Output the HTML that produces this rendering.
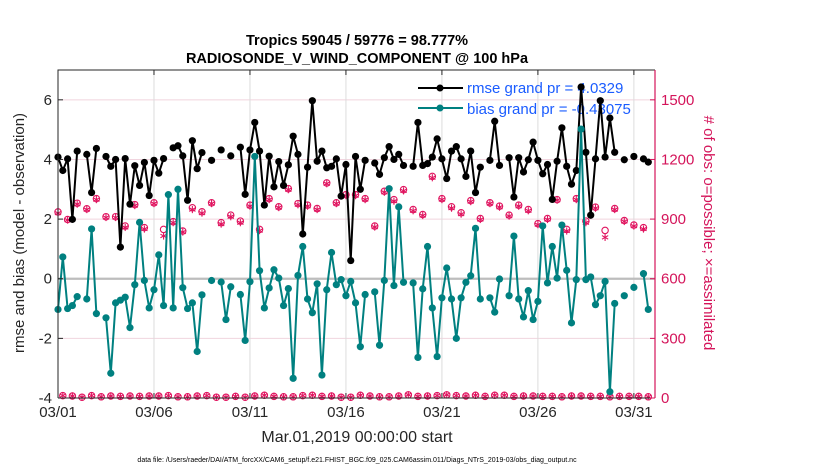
<!DOCTYPE html>
<html><head><meta charset="utf-8"><style>
body{margin:0;background:#fff;}
svg{display:block;font-family:"Liberation Sans",sans-serif;}
</style></head><body>
<svg id="chart" width="830" height="470" viewBox="0 0 830 470" xmlns="http://www.w3.org/2000/svg">
<rect width="830" height="470" fill="#fff"/>
<g id="grid"></g>
<g id="legend">
  <line x1="418" y1="88" x2="463" y2="88" stroke="#000" stroke-width="2"/>
  <circle cx="440" cy="88" r="3.5" fill="#000"/>
  <text x="467" y="93" font-size="15" fill="#1a5cff">rmse grand pr = 4.0329</text>
  <line x1="418" y1="108" x2="463" y2="108" stroke="#008080" stroke-width="2"/>
  <circle cx="440" cy="108" r="3.5" fill="#008080"/>
  <text x="467" y="114" font-size="15" fill="#1a5cff">bias grand pr = -0.43075</text>
</g>
<g id="marks"></g>
<g id="axes"></g>
<text x="357" y="45" font-size="14.5" font-weight="bold" text-anchor="middle">Tropics 59045 / 59776 = 98.777%</text>
<text x="357" y="63" font-size="14.5" font-weight="bold" text-anchor="middle">RADIOSONDE_V_WIND_COMPONENT @ 100 hPa</text>
<text x="357" y="442" font-size="16" fill="#262626" text-anchor="middle">Mar.01,2019 00:00:00 start</text>
<text x="357" y="462" font-size="7" fill="#000" text-anchor="middle">data file: /Users/raeder/DAI/ATM_forcXX/CAM6_setup/f.e21.FHIST_BGC.f09_025.CAM6assim.011/Diags_NTrS_2019-03/obs_diag_output.nc</text>
<text transform="translate(24,233) rotate(-90)" font-size="15" fill="#262626" text-anchor="middle">rmse and bias (model - observation)</text>
<text transform="translate(704,233) rotate(90)" font-size="15" fill="#d4145a" text-anchor="middle"># of obs: o=possible; ×=assimilated</text>
</svg>
<script>
const dayTicks = [0,5,10,15,20,25,30];
const dayLabels = ["03/01","03/06","03/11","03/16","03/21","03/26","03/31"];
const leftTicks = [-4,-2,0,2,4,6];
const rightTicks = [0,300,600,900,1200,1500];
const rmse = [4.08,3.63,4.02,1.99,4.28,null,4.17,2.89,4.37,null,4.1,3.77,4.0,1.06,4.03,2.5,3.79,3.13,3.9,2.79,3.97,3.54,4.03,null,4.39,4.46,4.12,2.63,4.63,3.69,4.23,null,3.97,null,4.32,null,4.12,null,4.41,2.83,4.32,5.24,4.28,2.47,4.11,3.08,3.93,3.13,3.82,4.78,4.17,1.5,3.74,5.97,3.94,4.28,3.72,3.77,4.02,2.77,3.83,0.61,4.1,3.0,3.97,null,3.88,3.5,4.06,4.43,4.0,4.17,3.8,null,3.77,5.24,3.8,3.86,4.08,4.69,4.02,3.36,4.28,4.43,4.02,3.43,4.28,2.89,3.74,null,3.97,5.28,3.8,null,4.06,2.74,4.06,3.58,3.99,4.58,3.97,3.52,3.83,2.66,3.94,5.06,3.77,3.17,3.63,6.43,4.24,2.13,4.02,5.97,4.08,5.39,4.24,null,3.99,null,4.1,null,4.02,3.91];
const bias = [-1.03,0.73,-1.0,-0.9,-0.6,null,-0.68,1.67,-1.17,null,-1.31,-3.17,-0.81,-0.72,-0.62,-1.64,-0.2,1.89,-0.06,-0.98,-0.37,0.8,-0.9,2.82,-0.98,3.0,-0.3,-1.0,-0.81,-2.44,-0.54,null,-0.06,null,-0.11,-1.37,-0.27,null,-0.53,-2.07,-0.1,4.1,0.27,-0.98,-0.31,0.3,0.02,-0.9,-0.33,-3.34,0.11,1.08,-0.68,-1.14,-0.17,-3.23,-0.37,0.88,-0.2,-0.03,-0.57,-0.09,-0.81,-2.28,-0.53,null,-0.44,-2.23,-0.06,3.02,-0.23,2.41,-0.12,null,-0.14,-2.64,-0.34,1.08,-0.98,-2.61,-0.64,0.36,-0.68,-2.0,-0.64,-0.12,0.1,1.69,-0.68,null,-0.64,-1.12,-0.01,null,-0.57,1.43,-0.68,-1.28,-0.4,-1.37,-0.76,1.77,-0.14,1.08,0.02,1.8,0.28,-1.48,-0.03,5.02,-0.03,0.06,-0.87,-0.57,-0.09,-3.79,-0.83,null,-0.57,null,-0.29,null,0.17,-1.03];
const possibleMain = [936,898,980,952,1003,912,912,865,973,857,982,848,887,840,957,937,982,882,920,890,970,848,1003,962,1053,978,970,953,1082,982,1023,1023,1003,865,1040,998,1048,948,923,1115,1003,962,932,993,903,982,965,920,970,948,877,903,998,848,1003,890,960,843,953,893,870,857];
const assimMain = [930,895,975,948,998,908,908,858,968,850,978,815,882,835,948,930,978,875,912,882,965,842,998,958,1048,972,965,948,1078,978,1018,1018,998,860,1035,990,1042,942,918,1108,998,955,925,988,898,978,960,915,965,942,872,898,995,840,998,882,955,808,948,888,865,850];
const countOdd = [12,10,4,12,6,10,8,10,8,10,10,12,6,6,10,12,4,4,8,4,10,14,8,6,6,12,14,8,10,4,4,14,10,6,6,10,16,8,10,12,16,12,10,14,8,14,14,8,10,10,8,8,6,10,10,8,8,6,8,8,8,6];

const X0=58, X1=655, DMAX=31.1, YT=70, YB=398;
const xd = d => X0 + d*(X1-X0)/DMAX;
const xi = i => xd(i/4);
const yl = v => YB - (v+4)*(YB-YT)/11;
const yr = c => YB - c*(YB-YT)/1650;
const NS="http://www.w3.org/2000/svg";
function mk(tag, attrs, parent){const e=document.createElementNS(NS,tag);for(const k in attrs)e.setAttribute(k,attrs[k]);parent.appendChild(e);return e;}

const grid=document.getElementById('grid'), axes=document.getElementById('axes'), marks=document.getElementById('marks');
rightTicks.forEach(c=>{
  const g=mk('line',{x1:X0,x2:X1,y1:yr(c),y2:yr(c),stroke:'#f0d4de','stroke-width':1},grid);
  
  
});
dayTicks.forEach(d=>{
  const g=mk('line',{x1:xd(d),x2:xd(d),y1:YT,y2:YB,stroke:'#dcdcdc','stroke-width':1},grid);
  
  
});
const z=mk('line',{x1:X0,x2:X1,y1:yl(0),y2:yl(0),stroke:'#bdbdbd','stroke-width':2.2},grid);



function series(vals, color, name){
  const g=mk('g',{},marks);
  
  
  let d='', pen=false;
  vals.forEach((v,i)=>{ if(v===null){pen=false;return;} d+=(pen?'L':'M')+xi(i).toFixed(1)+' '+yl(v).toFixed(1); pen=true; });
  mk('path',{d:d,fill:'none',stroke:color,'stroke-width':2,'stroke-linejoin':'round'},g);
  vals.forEach((v,i)=>{ if(v===null)return;
    const c=mk('circle',{cx:xi(i),cy:yl(v),r:3.6,fill:color},g);
    
    
  });
}
function star(cx,cy,r,color,parent){
  const g=mk('g',{stroke:color,'stroke-width':1.1},parent);
  for(let a=0;a<3;a++){const t=a*Math.PI/3+Math.PI/2;mk('line',{x1:cx-r*Math.cos(t),y1:cy-r*Math.sin(t),x2:cx+r*Math.cos(t),y2:cy+r*Math.sin(t)},g);}
  return g;
}
const obs=mk('g',{},marks);


const PINK='#e0145f';
possibleMain.forEach((c,k)=>{
  const i=2*k;
  const o=mk('circle',{cx:xi(i),cy:yr(c),r:3.2,fill:'none',stroke:PINK,'stroke-width':1.1},obs);
  
  
  const s=star(xi(i),yr(assimMain[k]),3.6,PINK,obs);
  
  
});
countOdd.forEach((c,k)=>{
  const i=2*k+1;
  const o=mk('circle',{cx:xi(i),cy:yr(c),r:3.2,fill:'none',stroke:PINK,'stroke-width':1.1},obs);
  
  
  const s=star(xi(i),yr(c),3.6,PINK,obs);
  
  
});
series(rmse,'#000','rmse');
series(bias,'#008080','bias');
mk('path',{d:`M${X0} ${YB}V${YT}H${X1}`,fill:'none',stroke:'#262626','stroke-width':1},axes);
mk('line',{x1:X0,x2:X1,y1:YB,y2:YB,stroke:'#262626','stroke-width':1},axes);
mk('line',{x1:X1,x2:X1,y1:YT,y2:YB,stroke:'#d4145a','stroke-width':1.2},axes);
leftTicks.forEach(v=>{
  mk('line',{x1:X0,x2:X0+5,y1:yl(v),y2:yl(v),stroke:'#262626'},axes);
  const t=mk('text',{x:X0-6,y:yl(v)+5,'font-size':15,fill:'#262626','text-anchor':'end'},axes);
  t.textContent=String(v);
  
  
});
rightTicks.forEach(c=>{
  mk('line',{x1:X1-5,x2:X1,y1:yr(c),y2:yr(c),stroke:'#d4145a'},axes);
  const t=mk('text',{x:X1+6,y:yr(c)+5,'font-size':15,fill:'#d4145a'},axes);
  t.textContent=String(c);
  
  
});
dayTicks.forEach((d,k)=>{
  mk('line',{x1:xd(d),x2:xd(d),y1:YB,y2:YB-5,stroke:'#262626'},axes);
  mk('line',{x1:xd(d),x2:xd(d),y1:YT,y2:YT+5,stroke:'#262626'},axes);
  const t=mk('text',{x:xd(d),y:YB+19,'font-size':15,fill:'#262626','text-anchor':'middle'},axes);
  t.textContent=dayLabels[k];
  
  
});
</script>
</body></html>
